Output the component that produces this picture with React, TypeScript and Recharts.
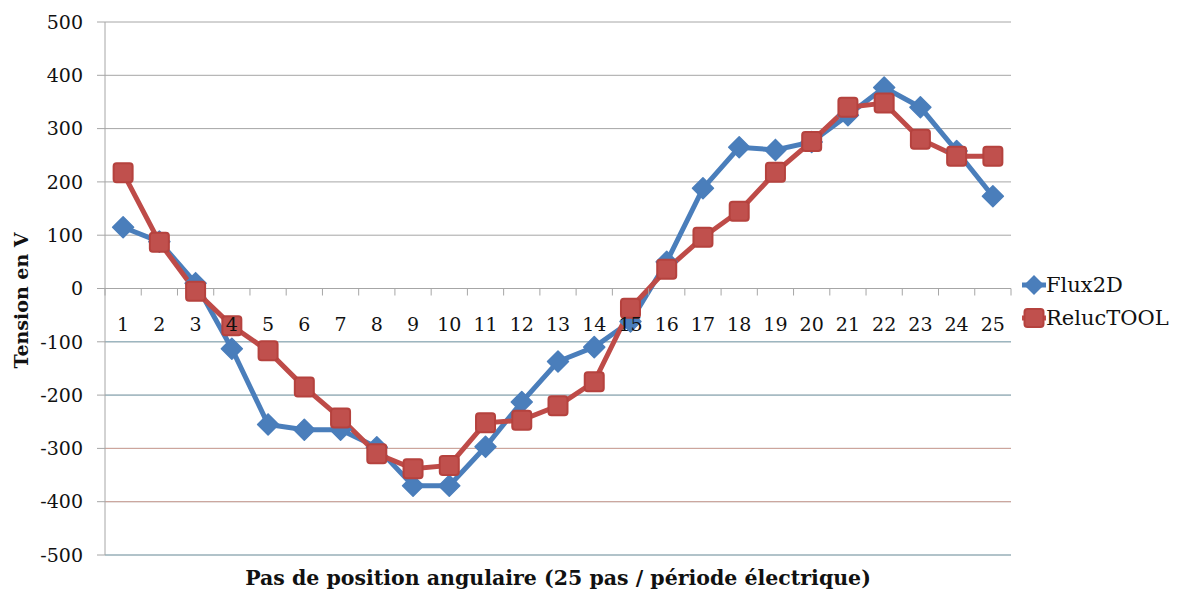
import { CartesianGrid, Legend, Line, LineChart, ReferenceLine, XAxis, YAxis } from "recharts";

const steps = ["1", "2", "3", "4", "5", "6", "7", "8", "9", "10", "11", "12", "13", "14", "15", "16", "17", "18", "19", "20", "21", "22", "23", "24", "25"];
const flux2d = [115, 88, 10, -113, -255, -265, -265, -298, -370, -370, -297, -213, -137, -110, -62, 50, 188, 265, 260, 275, 325, 377, 340, 258, 173];
const reluctool = [217, 87, -5, -70, -117, -185, -243, -310, -338, -332, -252, -247, -220, -175, -37, 36, 96, 145, 218, 276, 340, 348, 280, 248, 248];
const yTicks = [-500, -400, -300, -200, -100, 0, 100, 200, 300, 400, 500];
const negLines = [
  { v: -100, c: "#8fb3c0" },
  { v: -200, c: "#8fb3c0" },
  { v: -300, c: "#d0a49a" },
  { v: -400, c: "#d0a49a" },
  { v: -500, c: "#8fb3c0" },
];

const data = steps.map((s, i) => ({ step: s, flux: flux2d[i], reluc: reluctool[i] }));

const FONT = "'DejaVu Serif', serif";
const BLUE = "#4a7ebb";
const RED = "#be4b48";
const GRID = "#a6a6a6";

const W = 1178;
const H = 592;
const TOP = 22;
const PLOT_BOTTOM = 555;
const ZERO_Y = (TOP + PLOT_BOTTOM) / 2;
const BAND = (1011 - 105) / steps.length;

function Diamond(props: any) {
  const { cx, cy } = props;
  if (cx == null || cy == null) return null;
  const r = 10.5;
  return (
    <polygon
      points={`${cx},${cy - r} ${cx + r},${cy} ${cx},${cy + r} ${cx - r},${cy}`}
      fill={BLUE}
      stroke={BLUE}
      strokeWidth={1.5}
      strokeLinejoin="round"
    />
  );
}

function Square(props: any) {
  const { cx, cy } = props;
  if (cx == null || cy == null) return null;
  return <rect x={cx - 9.5} y={cy - 9.5} width={19} height={19} rx={3} fill="#c0504d" stroke="#b5423e" strokeWidth={2} />;
}

function StepTick(props: any) {
  const { x, payload, index } = props;
  return (
    <g>
      {index === 0 && <line x1={x - BAND / 2} x2={x - BAND / 2} y1={ZERO_Y} y2={ZERO_Y + 7} stroke={GRID} />}
      <line x1={x + BAND / 2} x2={x + BAND / 2} y1={ZERO_Y} y2={ZERO_Y + 7} stroke={GRID} />
      <text x={x} y={ZERO_Y + 42} textAnchor="middle" fontSize={19} style={{ fontFamily: FONT }} fill="#111">
        {payload.value}
      </text>
    </g>
  );
}

function YTitle(props: any) {
  const { viewBox } = props;
  const x = viewBox.x + 21;
  const y = viewBox.y + viewBox.height / 2 + 12;
  return (
    <text x={x} y={y} transform={`rotate(-90, ${x}, ${y})`} textAnchor="middle" dominantBaseline="central" fontSize={19} fontWeight="bold" style={{ fontFamily: FONT }} fill="#111">
      Tension en V
    </text>
  );
}

function LegendBox() {
  const items = [
    { name: "Flux2D", color: BLUE, shape: "diamond" },
    { name: "RelucTOOL", color: RED, shape: "square" },
  ];
  return (
    <div style={{ fontFamily: FONT, fontSize: 21, color: "#111" }}>
      {items.map((it) => (
        <div key={it.name} style={{ display: "flex", alignItems: "center", height: 33 }}>
          <svg width={24} height={22} style={{ marginRight: 0 }}>
            <line x1={0} x2={24} y1={11} y2={11} stroke={it.color} strokeWidth={5} />
            {it.shape === "diamond" ? (
              <polygon points="12,1 22,11 12,21 2,11" fill={it.color} />
            ) : (
              <rect x={2.5} y={2} width={19} height={18} rx={3} fill="#c0504d" stroke="#b5423e" strokeWidth={2} />
            )}
          </svg>
          <span>{it.name}</span>
        </div>
      ))}
    </div>
  );
}

export default function App() {
  return (
    <div style={{ position: "absolute", left: 0, top: 0, background: "#fff", fontFamily: FONT }}>
      <LineChart width={W} height={H} data={data} margin={{ top: TOP, right: 167, bottom: 0, left: 0 }}>
        <CartesianGrid vertical={false} stroke={GRID} />
        {negLines.map((l) => (
          <ReferenceLine key={l.v} y={l.v} stroke={l.c} strokeWidth={1} />
        ))}
        <ReferenceLine y={0} stroke={GRID} />
        <XAxis
          dataKey="step"
          height={37}
          axisLine={false}
          tickLine={false}
          interval={0}
          padding={{ left: BAND / 2, right: BAND / 2 }}
          tick={<StepTick />}
          label={{ value: "Pas de position angulaire (25 pas / période électrique)", position: "insideBottom", offset: 7, fontSize: 20.5, fontWeight: "bold", style: { fontFamily: FONT }, fill: "#111" }}
        />
        <YAxis
          type="number"
          domain={[-500, 500]}
          ticks={yTicks}
          interval={0}
          width={105}
          stroke={GRID}
          tickSize={8}
          tickMargin={14}
          tick={{ fill: "#111", fontSize: 19, style: { fontFamily: FONT } }}
          label={<YTitle />}
        />
        <Line
          dataKey="flux"
          name="Flux2D"
          stroke={BLUE}
          strokeWidth={5}
          dot={<Diamond />}
          activeDot={false}
          isAnimationActive={false}
        />
        <Line
          dataKey="reluc"
          name="RelucTOOL"
          stroke={RED}
          strokeWidth={5}
          dot={<Square />}
          activeDot={false}
          isAnimationActive={false}
        />
        <Legend
          layout="vertical"
          align="center"
          verticalAlign="middle"
          content={<LegendBox />}
          wrapperStyle={{ position: "absolute", left: 1022, top: 268, width: 156 }}
        />
      </LineChart>
    </div>
  );
}
